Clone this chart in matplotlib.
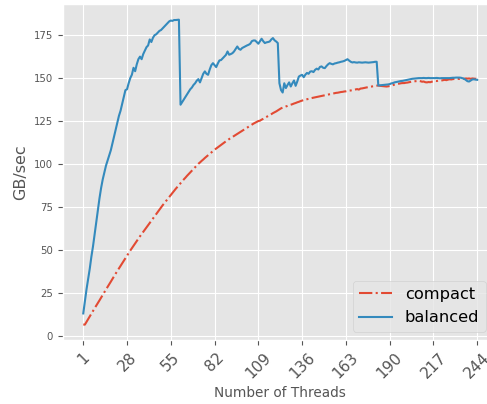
import numpy as np
import matplotlib
matplotlib.use('Agg')
import matplotlib.pyplot as plt

plt.style.use('ggplot')

threads = np.arange(1, 245)
tick_vals = list(range(1, 245, 27))

# GB/sec, compact affinity
compact = [
    6.5, 6.5, 8.1, 9.7, 11.2, 12.8, 14.4, 16.0, 17.5, 19.1,
    20.6, 22.2, 23.8, 25.3, 26.9, 28.4, 30.0, 31.5, 33.1, 34.6,
    36.2, 37.7, 39.2, 40.7, 42.2, 43.7, 45.2, 46.7, 48.2, 49.6,
    51.0, 52.4, 53.8, 55.2, 56.5, 57.9, 59.2, 60.6, 61.9, 63.2,
    64.5, 65.8, 67.1, 68.4, 69.7, 71.0, 72.3, 73.5, 74.8, 76.0,
    77.2, 78.4, 79.6, 80.8, 82.0, 83.2, 84.3, 85.5, 86.6, 87.7,
    88.8, 89.9, 91.0, 92.0, 93.1, 94.1, 95.1, 96.1, 97.1, 98.1,
    99.1, 100.1, 100.9, 101.8, 102.6, 103.5, 104.3, 105.1, 105.9, 106.7,
    107.5, 108.3, 109.0, 109.7, 110.4, 111.1, 111.8, 112.5, 113.2, 113.8,
    114.5, 115.1, 115.7, 116.3, 116.9, 117.5, 118.1, 118.7, 119.3, 119.9,
    120.5, 121.1, 121.7, 122.3, 122.9, 123.5, 124.0, 124.5, 125.0, 125.2,
    125.8, 126.3, 126.9, 127.4, 127.9, 128.4, 129.0, 129.6, 130.1, 130.6,
    131.2, 131.8, 132.4, 132.8, 133.1, 133.5, 133.8, 134.2, 134.5, 134.8,
    135.2, 135.5, 135.9, 136.2, 136.6, 136.9, 137.3, 137.5, 137.7, 137.9,
    138.2, 138.4, 138.6, 138.8, 139.0, 139.2, 139.4, 139.6, 139.8, 140.0,
    140.2, 140.4, 140.6, 140.8, 141.0, 141.2, 141.4, 141.5, 141.7, 141.9,
    142.0, 142.2, 142.3, 142.5, 142.7, 142.8, 143.0, 143.2, 143.4, 143.6,
    143.3, 143.9, 144.0, 144.2, 144.4, 144.6, 144.8, 145.0, 145.1, 145.3,
    145.5, 145.6, 145.7, 145.5, 145.4, 145.3, 145.2, 145.1, 145.2, 145.4,
    145.6, 145.9, 146.2, 146.5, 146.7, 146.8, 147.0, 147.1, 147.1, 147.3,
    147.4, 147.6, 147.8, 148.0, 148.1, 148.2, 148.3, 148.4, 148.2, 147.9,
    148.0, 147.6, 147.5, 147.7, 147.6, 147.9, 148.2, 148.4, 148.3, 148.5,
    148.4, 148.6, 148.8, 149.0, 148.8, 149.1, 149.3, 149.2, 149.4, 149.5,
    149.6, 149.6, 149.5, 149.7, 149.6, 149.6, 149.8, 149.7, 149.8, 149.6,
    149.8, 149.7, 149.6, 149.5,
]

# GB/sec, balanced affinity
balanced = [
    13.0, 20.0, 27.0, 33.0, 39.0, 46.0, 52.0, 59.0, 66.0, 73.0,
    80.0, 86.0, 91.0, 95.0, 99.0, 102.0, 105.0, 108.0, 112.0, 116.0,
    120.0, 124.0, 128.0, 131.0, 135.0, 139.0, 143.0, 143.5, 147.0, 150.0,
    152.0, 156.0, 154.0, 158.0, 161.0, 162.5, 161.0, 164.0, 166.0, 168.0,
    169.0, 172.5, 171.0, 173.5, 175.0, 175.5, 176.5, 177.5, 178.0, 179.0,
    180.0, 181.0, 182.0, 183.0, 183.5, 183.3, 183.8, 183.8, 183.9, 184.0,
    134.5, 136.0, 137.5, 139.0, 140.5, 142.0, 143.5, 144.5, 146.0, 147.0,
    148.5, 149.4, 147.5, 150.0, 152.5, 153.9, 152.5, 151.9, 155.0, 157.5,
    158.7, 157.5, 156.4, 158.5, 160.3, 160.5, 161.5, 162.5, 163.5, 165.5,
    163.6, 164.0, 164.5, 165.5, 167.0, 168.4, 167.0, 166.5, 167.5, 168.0,
    168.5, 169.0, 169.4, 170.0, 171.5, 171.9, 171.9, 171.0, 170.0, 171.5,
    172.9, 171.5, 170.4, 170.8, 171.0, 171.3, 172.5, 173.3, 172.0, 171.3,
    170.4, 147.0, 143.0, 141.6, 147.0, 144.2, 146.0, 147.5, 145.1, 147.0,
    148.6, 145.5, 148.0, 150.9, 151.5, 151.9, 150.5, 152.0, 153.0, 152.5,
    153.8, 154.0, 153.5, 154.8, 155.5, 155.0, 156.5, 156.8, 156.0, 155.8,
    157.0, 158.0, 158.7, 158.3, 158.0, 158.5, 158.7, 159.0, 159.2, 159.5,
    159.7, 160.0, 160.5, 161.0, 160.2, 159.5, 159.1, 159.3, 159.1, 159.0,
    159.2, 159.1, 159.0, 159.1, 159.2, 159.1, 159.0, 159.1, 159.2, 159.3,
    159.5, 159.5, 145.7, 145.8, 145.9, 146.0, 146.1, 146.2, 146.3, 146.5,
    146.9, 147.1, 147.5, 147.7, 147.9, 148.1, 148.3, 148.4, 148.6, 148.8,
    149.0, 149.2, 149.4, 149.6, 149.7, 149.8, 149.9, 150.0, 150.0, 150.0,
    150.1, 150.0, 150.0, 150.1, 150.0, 150.0, 150.0, 150.0, 150.1, 150.0,
    149.9, 150.0, 150.0, 150.0, 150.0, 150.0, 150.0, 150.1, 150.2, 150.2,
    150.3, 150.3, 150.3, 150.2, 149.9, 149.6, 148.9, 148.2, 148.0, 148.6,
    149.2, 149.3, 149.1, 149.0,
]

fig = plt.figure(figsize=(4.87, 4.04), dpi=100)
ax = fig.add_axes([0.1287, 0.1587, 0.8916, 0.8304])

ax.plot(threads, compact, '-.', color='#E24A33', lw=1.5, label='compact')
ax.plot(threads, balanced, '-', color='#348ABD', lw=1.5, label='balanced')

ax.set_xlim(-11.7, 256.15)
ax.set_ylim(-2.4, 192.9)
ax.set_xticks(tick_vals)
ax.set_xticklabels([str(t) for t in tick_vals], rotation=45, fontsize=11)
ax.tick_params(axis='y', labelsize=7.3)
ax.set_xlabel('Number of Threads', fontsize=9.8)
ax.set_ylabel('GB/sec', fontsize=11.5)

ax.legend(loc='lower right', fontsize=11.7, borderaxespad=0,
          bbox_to_anchor=(485.7 / 487, (404 - 331.7) / 404),
          bbox_transform=fig.transFigure)

fig.savefig('out.png', dpi=100)
